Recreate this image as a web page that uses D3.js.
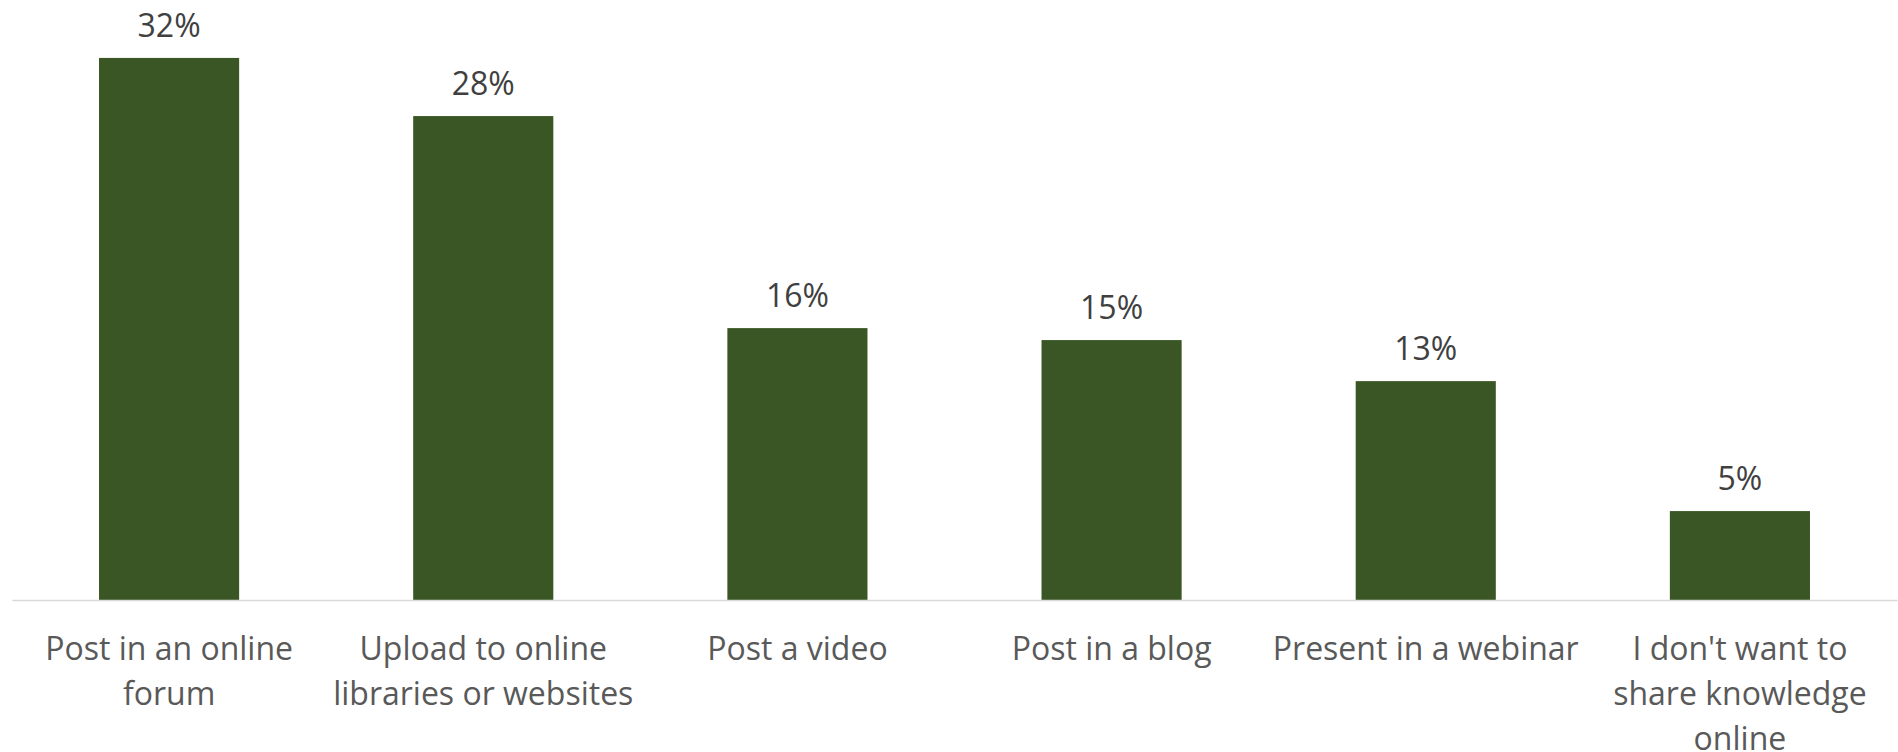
<!DOCTYPE html>
<html>
<head>
<meta charset="utf-8">
<script src="https://cdn.jsdelivr.net/npm/d3@7"></script>
<style>
  body { margin: 0; background: #fff; }
  text { font-family: "Open Sans", sans-serif; }
</style>
</head>
<body>
<div id="chart"></div>
<script>
// values (percent)
var categories = ['Post in an online forum', 'Upload to online libraries or websites', 'Post a video',
  'Post in a blog', 'Present in a webinar', "I don't want to share knowledge online"];
var shares = [31.7, 28.3, 15.9, 15.2, 12.8, 5.2];
// tick labels as wrapped in the original
var tickLines = [
  ['Post in an online', 'forum'],
  ['Upload to online', 'libraries or websites'],
  ['Post a video'],
  ['Post in a blog'],
  ['Present in a webinar'],
  ["I don't want to", 'share knowledge', 'online']
];

var width = 1898,
    height = 752;
var margin = {top: 1.5, right: 1, bottom: 152, left: 12};
var baseline = height - margin.bottom;

var svg = d3.select('#chart').append('svg')
  .attr('width', width)
  .attr('height', height);

var data = categories.map(function(c, i) {
  return {name: c, value: shares[i]};
});

var xScale = d3.scaleBand()
  .domain(categories)
  .range([margin.left, width - margin.right])
  .paddingInner(0.554)
  .paddingOuter(0.277);

var yScale = d3.scaleLinear()
  .domain([0, 35])
  .range([baseline, margin.top]);

// bars
svg.selectAll('rect.bar')
  .data(data)
  .enter()
  .append('rect')
  .attr('class', 'bar')
  .attr('x', function(d) { return xScale(d.name); })
  .attr('y', function(d) { return yScale(d.value); })
  .attr('width', xScale.bandwidth())
  .attr('height', function(d) { return baseline - yScale(d.value); })
  .attr('fill', '#3a5624');

// data labels
svg.selectAll('text.val')
  .data(data)
  .enter()
  .append('text')
  .attr('class', 'val')
  .attr('x', function(d) { return xScale(d.name) + xScale.bandwidth() / 2; })
  .attr('y', function(d) { return yScale(d.value) - 21; })
  .attr('text-anchor', 'middle')
  .attr('font-size', 32)
  .attr('fill', '#404040')
  .text(function(d) { return Math.round(d.value) + '%'; });

// x axis
var xAxis = d3.axisBottom(xScale).tickSize(0).tickSizeOuter(0);

var gx = svg.append('g')
  .attr('transform', 'translate(0,' + baseline + ')')
  .call(xAxis);

gx.select('.domain')
  .attr('stroke', '#d9d9d9')
  .attr('stroke-width', 1.5);

gx.selectAll('.tick text')
  .attr('font-size', 32)
  .attr('font-family', '"Open Sans", sans-serif')
  .attr('fill', '#595959')
  .attr('dy', null)
  .each(function(d, i) {
    var text = d3.select(this).text(null);
    tickLines[i].forEach(function(l, j) {
      text.append('tspan')
        .attr('x', 0)
        .attr('y', 60 + j * 45)
        .text(l);
    });
  });
</script>
</body>
</html>
